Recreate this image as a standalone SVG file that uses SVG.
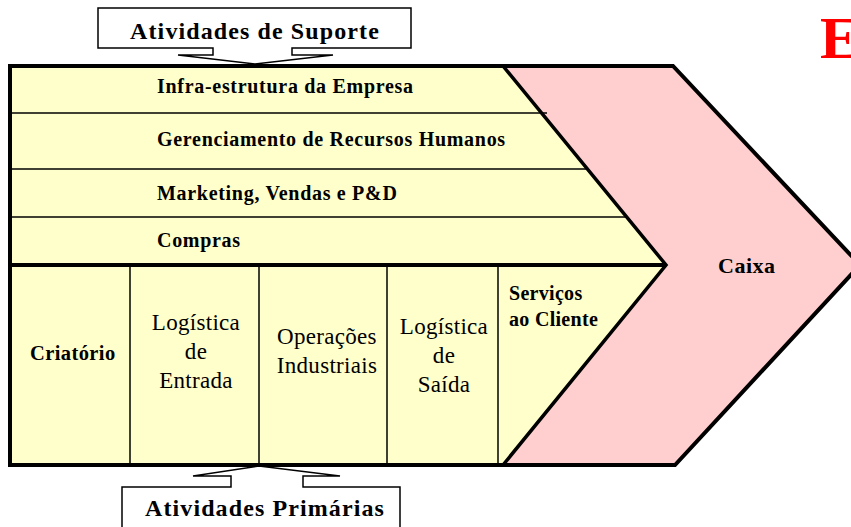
<svg xmlns="http://www.w3.org/2000/svg" width="851" height="527" viewBox="0 0 851 527">
<style>
.b{font-family:"Liberation Serif","Times New Roman",serif;font-weight:bold;fill:#000}
.sup{font-size:20px;letter-spacing:0.7px}
.r{font-family:"Liberation Serif","Times New Roman",serif;font-size:23px;letter-spacing:0.3px;fill:#000;text-anchor:middle}
.thin{stroke:#000;stroke-width:1.5;fill:none}
.callout{fill:#fff;stroke:#000;stroke-width:1.5}
</style>
<rect width="851" height="527" fill="#fff"/>
<g id="caixa">
<path d="M10,66 H673 L860,265 L675,465 H10 Z" fill="#FFCFCF" stroke="#000" stroke-width="4" stroke-linejoin="miter"/>
<text class="b" x="718" y="273" font-size="22" letter-spacing="0.5">Caixa</text>
</g>
<g id="support-area">
<path d="M10,66 H503 L666,265 H10 Z" fill="#FFFFCC"/>
</g>
<g id="primary-area">
<path d="M10,265 H666 L503,465 H10 Z" fill="#FFFFCC"/>
</g>
<g id="dividers">
<line class="thin" x1="10" y1="113" x2="547" y2="113"/>
<line class="thin" x1="10" y1="169" x2="588" y2="169"/>
<line class="thin" x1="10" y1="217" x2="627" y2="217"/>
<line class="thin" x1="130" y1="265" x2="130" y2="465"/>
<line class="thin" x1="259" y1="265" x2="259" y2="465"/>
<line class="thin" x1="387" y1="265" x2="387" y2="465"/>
<line class="thin" x1="498" y1="265" x2="498" y2="465"/>
<line x1="10" y1="265" x2="666" y2="265" stroke="#000" stroke-width="4"/>
<polyline points="503,66 666,265 503,465" fill="none" stroke="#000" stroke-width="3.5" stroke-linejoin="miter"/>
<path d="M673,66 H10 V465 H675" fill="none" stroke="#000" stroke-width="4"/>
</g>
<g id="infra"><text class="b sup" x="157" y="93">Infra-estrutura da Empresa</text></g>
<g id="rh"><text class="b sup" x="157" y="146">Gerenciamento de Recursos Humanos</text></g>
<g id="marketing"><text class="b sup" x="157" y="200">Marketing, Vendas e P&amp;D</text></g>
<g id="compras"><text class="b sup" x="157" y="247">Compras</text></g>
<g id="criatorio"><text class="b" x="30" y="360" font-size="20.5" letter-spacing="0.4">Criatório</text></g>
<g id="log-entrada"><text class="r"><tspan x="196" y="330">Logística</tspan><tspan x="196" y="359">de</tspan><tspan x="196" y="388">Entrada</tspan></text></g>
<g id="operacoes"><text class="r"><tspan x="327" y="344">Operações</tspan><tspan x="327" y="373">Industriais</tspan></text></g>
<g id="log-saida"><text class="r"><tspan x="444" y="334">Logística</tspan><tspan x="444" y="363">de</tspan><tspan x="444" y="392">Saída</tspan></text></g>
<g id="servicos"><text class="b" font-size="20" letter-spacing="0.3"><tspan x="509" y="300">Serviços</tspan><tspan x="509" y="326">ao Cliente</tspan></text></g>
<g id="atividades-suporte">
<path class="callout" d="M98,8 H411 V48 H292 V55 H333 L255,64 L178,55 H213 V48 H98 Z"/>
<text class="b" x="255" y="39" font-size="24" text-anchor="middle" letter-spacing="1.1">Atividades de Suporte</text>
</g>
<g id="atividades-primarias">
<path class="callout" d="M122,530 V487 H231 V476 H193 L259,466 L340,476 H303 V487 H400 V530"/>
<text class="b" x="265" y="516" font-size="24" text-anchor="middle" letter-spacing="1.1">Atividades Primárias</text>
</g>
<g id="letra-e"><text class="b" x="820" y="58" font-size="60" style="fill:#FF0000">E</text></g>
</svg>
